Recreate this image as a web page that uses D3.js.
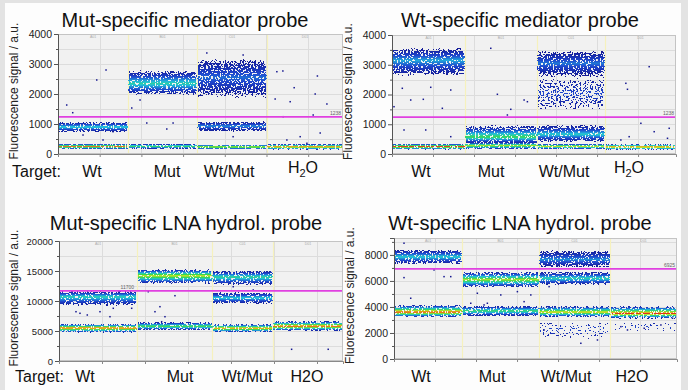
<!DOCTYPE html>
<html>
<head>
<meta charset="utf-8">
<script src="https://d3js.org/d3.v7.min.js"></script>
<style>
  body { margin: 0; background: #e3e3e3; }
  svg { display: block; font-family: "Liberation Sans", Arial, sans-serif; }
</style>
</head>
<body>
<svg id="chart" width="688" height="390"></svg>
<script>
// ---- data ----
const wells = ["Wt", "Mut", "Wt/Mut", "H2O"];
const titles = ["Mut-specific mediator probe", "Wt-specific mediator probe",
                "Mut-specific LNA hydrol. probe", "Wt-specific LNA hydrol. probe"];
const yMaxes = [4000, 4000, 20000, 9300];
const yMajorSteps = [1000, 1000, 5000, 2000];
const thresholds = [1238, 1238, 11700, 6925];
const dropletTotals = [13670, 13850, 13210, 13800];
const wellEdges = [
  [0, 3360, 6670, 10020, 13670],
  [0, 3560, 7070, 10390, 13850],
  [0, 3630, 7120, 9950, 13210],
  [0, 3320, 7070, 10540, 13800]
];
const wellIds = ["A01", "B01", "C01", "D01"];

// droplet clusters: [well, low, high, core, heat level 0-5, density]
const clusters1 = [
  [0, 140, 360, 250, 4.6, 1], [0, 700, 1100, 900, 2.2, 1],
  [1, 150, 350, 260, 3.2, 1], [1, 1900, 2850, 2350, 2.4, 1],
  [2, 140, 330, 235, 4.2, 1], [2, 720, 1110, 930, 1.6, 1], [2, 1750, 3300, 2550, 1.3, 0.85],
  [3, 130, 350, 240, 5, 1]
];
const clusters2 = [
  [0, 130, 360, 250, 5, 1], [0, 2550, 3620, 3150, 1.8, 1],
  [1, 140, 430, 280, 3.8, 1], [1, 320, 1020, 570, 3, 1],
  [2, 140, 360, 260, 4.2, 1], [2, 360, 1020, 660, 2.2, 1], [2, 1250, 2750, 2050, 1, 0.5], [2, 2550, 3520, 3050, 1.4, 1],
  [3, 120, 350, 240, 5, 1]
];
const clusters3 = [
  [0, 4600, 6300, 5500, 5, 1], [0, 9000, 11800, 10700, 2.4, 1],
  [1, 5000, 6600, 5800, 3.2, 1], [1, 12700, 15500, 14200, 3.9, 1],
  [2, 4700, 6300, 5450, 4.6, 1], [2, 9400, 11600, 10500, 2.2, 1], [2, 12400, 15200, 14000, 2.6, 1],
  [3, 4900, 6800, 5800, 5, 1]
];
const clusters4 = [
  [0, 3150, 4250, 3600, 5, 1], [0, 7200, 8500, 7850, 2.2, 1],
  [1, 3200, 4150, 3700, 2.9, 1], [1, 5400, 6800, 6100, 3.7, 1],
  [2, 3150, 4150, 3600, 4.2, 1], [2, 5600, 6800, 6200, 2.4, 1], [2, 6950, 8450, 7650, 1.6, 1], [2, 1100, 3250, 2300, 1, 0.4],
  [3, 3050, 4150, 3500, 5, 1], [3, 1900, 3150, 2450, 1, 0.36]
];

// stray droplets: [droplet index, signal]
const outliers1 = [[418, 1633], [706, 1377], [1858, 2467], [2304, 2800], [10498, 2743], [10786, 2767],
  [11328, 2210], [12442, 2600], [12336, 2000], [10416, 1833], [11136, 1743], [12898, 1667], [10800, 1243],
  [12240, 1300], [4258, 1033], [5218, 833], [3538, 1533], [3936, 1800], [5520, 1033], [11616, 577],
  [12576, 700], [10978, 467], [11938, 357], [1200, 633], [2160, 467], [2640, 743], [8400, 577],
  [7138, 3367], [8880, 3300]];
const outliers2 = [[4817, 3553], [5139, 2007], [98, 1590], [503, 2208], [913, 1815], [1527, 1838],
  [2455, 1536], [2865, 2151], [1889, 2242], [586, 807], [1645, 807], [2865, 582], [5793, 1502],
  [6442, 1815], [6603, 1758], [5627, 1311], [11405, 2376], [11483, 2175], [12542, 2935], [12137, 1032],
  [11161, 471], [12786, 750], [13518, 864], [13435, 528], [11566, 582]];
const outliers3 = [[790, 8217], [976, 7950], [1316, 7667], [1906, 8217], [2371, 7383], [2525, 8783],
  [3380, 8783], [4152, 11550], [4464, 8217], [4696, 9050], [4775, 6550], [4929, 7383], [5394, 10883],
  [10820, 1950], [12522, 1950], [8105, 12383], [9035, 11833]];
const outliers4 = [[488, 8900], [815, 4670], [488, 6254], [1952, 6846], [2440, 6330], [2767, 6330],
  [4065, 5054], [5207, 4923], [6017, 5177], [6344, 4408], [6671, 4923], [4553, 4285], [7564, 5562],
  [9111, 1208], [9921, 1462], [7320, 2231], [11063, 2485], [11385, 2231], [12200, 2362], [13015, 2615],
  [13581, 3131], [4392, 4154], [3743, 4285]];

const clusterSets = [clusters1, clusters2, clusters3, clusters4];
const outlierSets = [outliers1, outliers2, outliers3, outliers4];

// ---- layout ----
const panels = [
  { left: 58, right: 343, top: 34, bottom: 154, titleX: 185, titleY: 27, labY: 177, ylabX: 18, tickFont: 10.5,
    labX: [92, 167, 229, 303], targetX: 12, sub: true },
  { left: 392, right: 676, top: 35, bottom: 154, titleX: 520, titleY: 27, labY: 177, ylabX: 352, tickFont: 10.5,
    labX: [421, 491, 564, 629], targetX: null, sub: true },
  { left: 59, right: 343, top: 241, bottom: 361, titleX: 186, titleY: 230, labY: 382, ylabX: 18, tickFont: 9.5,
    labX: [85, 180, 247, 307], targetX: 15, sub: false },
  { left: 394, right: 677, top: 238, bottom: 359, titleX: 520, titleY: 230, labY: 382, ylabX: 354, tickFont: 10.5,
    labX: [421, 492, 566, 632], targetX: null, sub: false }
];

const heat = d3.scaleLinear().domain([0, 1, 2, 3, 4, 5])
  .range(["#14168f", "#1f48d0", "#22c4dc", "#3ad84a", "#ece81e", "#dc2a1c"])
  .interpolate(d3.interpolateRgb);
const navy = "#14168f";

const svg = d3.select("#chart");
svg.append("rect").attr("x", 5).attr("y", 3).attr("width", 676).attr("height", 387).attr("fill", "#fdfdfd");

const defs = svg.append("defs");
const filt = defs.append("filter").attr("id", "spk")
  .attr("filterUnits", "userSpaceOnUse").attr("x", 0).attr("y", 0).attr("width", 688).attr("height", 390)
  .attr("color-interpolation-filters", "sRGB");
filt.append("feTurbulence").attr("type", "fractalNoise").attr("baseFrequency", 0.6)
  .attr("numOctaves", 1).attr("seed", 5).attr("result", "noise");
filt.append("feColorMatrix").attr("in", "noise").attr("type", "matrix")
  .attr("values", "0 0 0 0 1  0 0 0 0 1  0 0 0 0 1  2 0 0 0 -0.5").attr("result", "na");
filt.append("feComposite").attr("in", "SourceGraphic").attr("in2", "na")
  .attr("operator", "arithmetic").attr("k1", 1).attr("k2", 0).attr("k3", 0).attr("k4", 0).attr("result", "m");
filt.append("feComponentTransfer").attr("in", "m")
  .append("feFuncA").attr("type", "discrete").attr("tableValues", "0 0 0 1 1 1 1 1 1 1");

function gradientStops(lo, hi, core, level, dens) {
  const coreOff = (hi - core) / (hi - lo);
  const stops = [];
  const n = 12;
  for (let i = 0; i <= n; i++) {
    const t = i / n;
    stops.push({ off: t * coreOff, t });
  }
  for (let i = n - 1; i >= 0; i--) {
    const t = i / n;
    stops.push({ off: 1 - t * (1 - coreOff), t });
  }
  return stops.map(s => ({
    off: s.off,
    color: heat(level * Math.pow(s.t, 1.5)),
    alpha: Math.min(1, Math.pow(s.t / 0.55, 0.8)) * dens
  }));
}

panels.forEach((p, pi) => {
  const x = d3.scaleLinear().domain([0, dropletTotals[pi]]).range([p.left, p.right]);
  const y = d3.scaleLinear().domain([0, yMaxes[pi]]).range([p.bottom, p.top]);
  const g = svg.append("g");
  const step = yMajorSteps[pi];

  defs.append("clipPath").attr("id", "clip" + pi).append("rect")
    .attr("x", p.left).attr("y", p.top).attr("width", p.right - p.left).attr("height", p.bottom - p.top);

  // plot background and grid
  g.append("rect").attr("x", p.left).attr("y", p.top).attr("width", p.right - p.left)
    .attr("height", p.bottom - p.top).attr("fill", "#f1f1f1");
  const minorTicks = d3.range(step / 2, yMaxes[pi], step / 2);
  g.selectAll(".hg").data(minorTicks).join("line")
    .attr("x1", p.left).attr("x2", p.right).attr("y1", d => Math.round(y(d)) + 0.5).attr("y2", d => Math.round(y(d)) + 0.5)
    .attr("stroke", "#dcdcdc");
  const xTicks = d3.range(2000, dropletTotals[pi], 2000);
  g.selectAll(".vg").data(xTicks).join("line")
    .attr("y1", p.top).attr("y2", p.bottom).attr("x1", d => Math.round(x(d)) + 0.5).attr("x2", d => Math.round(x(d)) + 0.5)
    .attr("stroke", "#dcdcdc");

  // well separators
  g.selectAll(".ws").data(wellEdges[pi].slice(1, 4)).join("line")
    .attr("y1", p.top).attr("y2", p.bottom).attr("x1", d => Math.round(x(d)) + 0.5).attr("x2", d => Math.round(x(d)) + 0.5)
    .attr("stroke", "#f6f1bd").attr("stroke-width", 1.2);

  // droplet clusters
  const cg = g.append("g").attr("clip-path", `url(#clip${pi})`).append("g").attr("filter", "url(#spk)");
  clusterSets[pi].forEach((c, ci) => {
    const [w, lo, hi, core, level, dens] = c;
    const id = `gr${pi}_${ci}`;
    const gr = defs.append("linearGradient").attr("id", id).attr("x1", 0).attr("y1", 0).attr("x2", 0).attr("y2", 1);
    gradientStops(lo, hi, core, level, dens).forEach(s => {
      gr.append("stop").attr("offset", s.off).attr("stop-color", s.color).attr("stop-opacity", s.alpha);
    });
    const e = wellEdges[pi];
    cg.append("rect")
      .attr("x", x(e[w]) + 0.5).attr("width", x(e[w + 1]) - x(e[w]) - 1)
      .attr("y", y(hi)).attr("height", y(lo) - y(hi))
      .attr("fill", `url(#${id})`);
  });

  // stray droplets
  g.append("g").selectAll("rect").data(outlierSets[pi]).join("rect")
    .attr("x", d => x(d[0]) - 0.75).attr("y", d => y(d[1]) - 0.75)
    .attr("width", 1.5).attr("height", 1.5).attr("fill", navy);

  // threshold
  g.append("line").attr("x1", p.left).attr("x2", p.right)
    .attr("y1", y(thresholds[pi])).attr("y2", y(thresholds[pi]))
    .attr("stroke", "#e040e0").attr("stroke-width", 1.8);
  const thrX = pi === 2 ? x(wellEdges[pi][1]) - 3 : p.right - 2;
  g.append("text").attr("x", thrX).attr("y", y(thresholds[pi]) - 2)
    .attr("text-anchor", "end").attr("font-size", 5).attr("fill", "#666")
    .text(thresholds[pi]);

  // frame
  g.append("rect").attr("x", p.left + 0.5).attr("y", p.top + 0.5).attr("width", p.right - p.left - 1)
    .attr("height", p.bottom - p.top - 1).attr("fill", "none").attr("stroke", "#c4c4c4");

  // well ids along the top edge
  g.selectAll(".wid").data(wellIds).join("text")
    .attr("x", (d, i) => x((wellEdges[pi][i] + wellEdges[pi][i + 1]) / 2))
    .attr("y", p.top + 3.5).attr("text-anchor", "middle").attr("font-size", 3.5).attr("fill", "#aaa")
    .text(d => d);

  // y axis
  const yAxis = d3.axisLeft(y).tickValues(d3.range(0, yMaxes[pi] + 1, step)).tickSize(4).tickPadding(2).tickFormat(d3.format("d"));
  const ya = g.append("g").attr("transform", `translate(${p.left},0)`).call(yAxis);
  ya.select(".domain").attr("stroke", "#555");
  ya.selectAll(".tick line").attr("stroke", "#555");
  ya.selectAll(".tick text").attr("font-size", p.tickFont).attr("fill", "#222")
    .attr("font-family", "Liberation Sans, Arial, sans-serif");
  const yMinor = d3.axisLeft(y).tickValues(minorTicks.filter(d => d % step !== 0)).tickSize(2).tickFormat("");
  const ym = g.append("g").attr("transform", `translate(${p.left},0)`).call(yMinor);
  ym.select(".domain").remove();
  ym.selectAll(".tick line").attr("stroke", "#555");

  // x axis
  const xAxis = d3.axisBottom(x).tickValues(d3.range(0, dropletTotals[pi], 2000)).tickSize(3).tickFormat("");
  const xa = g.append("g").attr("transform", `translate(0,${p.bottom})`).call(xAxis);
  xa.select(".domain").attr("stroke", "#888");
  xa.selectAll(".tick line").attr("stroke", "#888");

  // title
  g.append("text").attr("x", p.titleX).attr("y", p.titleY).attr("text-anchor", "middle")
    .attr("font-size", 20).attr("fill", "#111").text(titles[pi]);

  // y label
  g.append("text").attr("transform", `translate(${p.ylabX},${(p.top + p.bottom) / 2 - 3}) rotate(-90)`)
    .attr("text-anchor", "middle").attr("font-size", 12).attr("fill", "#222")
    .text("Fluorescence signal / a.u.");

  // category labels
  if (p.targetX !== null) {
    g.append("text").attr("x", p.targetX).attr("y", p.labY).attr("font-size", 16).attr("fill", "#111").text("Target:");
  }
  wells.forEach((wname, i) => {
    const t = g.append("text").attr("x", p.labX[i]).attr("y", p.labY).attr("text-anchor", "middle")
      .attr("font-size", 16).attr("fill", "#111");
    if (p.sub && /\d/.test(wname)) {
      wname.split(/(\d)/).filter(s => s).forEach(part => {
        if (/\d/.test(part)) t.append("tspan").attr("font-size", 11).attr("dy", 4).text(part);
        else t.append("tspan").attr("dy", t.selectAll("tspan").size() ? -4 : 0).text(part);
      });
    } else {
      t.text(wname);
    }
  });
});
</script>
</body>
</html>
